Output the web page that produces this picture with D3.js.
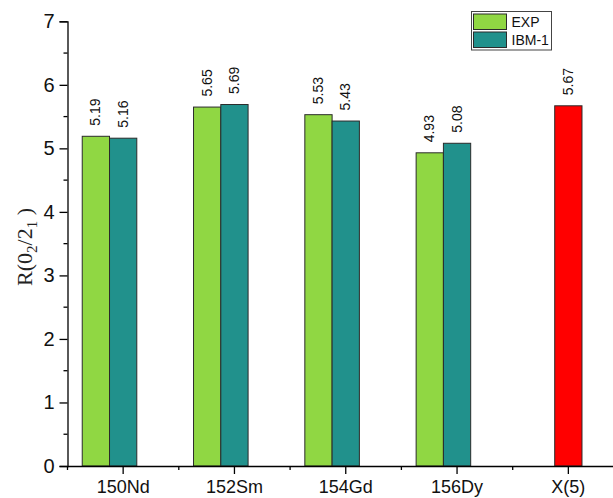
<!DOCTYPE html>
<html>
<head>
<meta charset="utf-8">
<script src="https://cdn.jsdelivr.net/npm/d3@7"></script>
<style>
  html, body { margin: 0; padding: 0; background: #fff; }
  svg { display: block; }
</style>
</head>
<body>
<svg id="chart" width="613" height="498"></svg>
<script>
// Nuclei and the X(5) critical-point prediction
const categories = ["150Nd", "152Sm", "154Gd", "156Dy", "X(5)"];
const expValues  = [5.19, 5.65, 5.53, 4.93, null];
const ibmValues  = [5.16, 5.69, 5.43, 5.08, null];
const x5Values   = [null, null, null, null, 5.67];
const yTicks     = [0, 1, 2, 3, 4, 5, 6, 7];
const legendItems = ["EXP", "IBM-1"];

const colors = { exp: "#90d743", ibm: "#21918c", x5: "#ff0000" };

const svg = d3.select("#chart");

const x = d3.scaleBand().domain(categories).range([67.5, 624]).padding(0);
// three slots per category; the X(5) bar sits in the middle slot
const slot = d3.scaleBand().domain([0, 1, 2]).range([0, x.bandwidth()]).paddingOuter(0.54).paddingInner(0);
const y = d3.scaleLinear().domain([0, 7]).range([466, 21.3]);

const series = [
  { key: "exp", values: expValues, slot: 0, color: colors.exp },
  { key: "ibm", values: ibmValues, slot: 1, color: colors.ibm },
  { key: "x5",  values: x5Values,  slot: 1, color: colors.x5 }
];

const bars = [];
series.forEach(s => s.values.forEach((v, i) => {
  if (v != null) bars.push({ cat: categories[i], v, slot: s.slot, color: s.color });
}));

// bars
svg.append("g").selectAll("rect").data(bars).join("rect")
  .attr("x", d => x(d.cat) + slot(d.slot))
  .attr("y", d => y(d.v))
  .attr("width", slot.bandwidth())
  .attr("height", d => y(0) - y(d.v))
  .attr("fill", d => d.color)
  .attr("stroke", "#2b2b2b")
  .attr("stroke-width", 1);

// value labels, rotated
svg.append("g").selectAll("text").data(bars).join("text")
  .attr("transform", d => `translate(${x(d.cat) + slot(d.slot) + slot.bandwidth() / 2 + 4.5},${y(d.v) - 10.5}) rotate(-90)`)
  .attr("font-family", "Arial, 'Liberation Sans', sans-serif")
  .attr("font-size", 14)
  .attr("fill", "#111")
  .text(d => d.v.toFixed(2));

// y axis
const yAxis = svg.append("g").attr("transform", "translate(67.5,0)")
  .call(d3.axisLeft(y).tickValues(yTicks).tickFormat(d3.format("d")).tickSize(8).tickPadding(5));
yAxis.select(".domain").attr("stroke", "#000").attr("stroke-width", 1.3);
yAxis.selectAll(".tick line").attr("stroke", "#000").attr("stroke-width", 1.3);
yAxis.selectAll(".tick text")
  .attr("font-family", "Arial, 'Liberation Sans', sans-serif")
  .attr("font-size", 20).attr("fill", "#111");
// minor ticks at half units
svg.append("g").selectAll("line")
  .data(d3.range(0.5, 7, 1))
  .join("line")
  .attr("x1", 63.5).attr("x2", 67.5)
  .attr("y1", d => y(d)).attr("y2", d => y(d))
  .attr("stroke", "#000").attr("stroke-width", 1.3);

// x axis
const xAxis = svg.append("g").attr("transform", `translate(0,${y(0)})`)
  .call(d3.axisBottom(x).tickSize(8).tickPadding(6).tickSizeOuter(0));
xAxis.select(".domain").attr("stroke", "#000").attr("stroke-width", 1.3);
xAxis.selectAll(".tick line").attr("stroke", "#000").attr("stroke-width", 1.3);
xAxis.selectAll(".tick text")
  .attr("font-family", "Arial, 'Liberation Sans', sans-serif")
  .attr("font-size", 18).attr("fill", "#111");
// minor ticks at category boundaries
svg.append("g").selectAll("line")
  .data(categories.map(c => x(c)))
  .join("line")
  .attr("x1", d => d).attr("x2", d => d)
  .attr("y1", y(0)).attr("y2", y(0) + 4)
  .attr("stroke", "#000").attr("stroke-width", 1.3);

// y axis title: R(0_2/2_1)
const title = svg.append("text")
  .attr("transform", "translate(32,247) rotate(-90)")
  .attr("text-anchor", "middle")
  .attr("font-family", "'Liberation Serif', 'Times New Roman', serif")
  .attr("font-size", 22)
  .attr("fill", "#222");
title.append("tspan").text("R(0");
title.append("tspan").attr("font-size", 15).attr("dy", 5).text("2");
title.append("tspan").attr("dy", -5).text("/2");
title.append("tspan").attr("font-size", 15).attr("dy", 5).text("1");
title.append("tspan").attr("dy", -5).text(" )");

// legend
const lg = svg.append("g").attr("transform", "translate(471.5,11.5)");
lg.append("rect").attr("width", 80).attr("height", 38.5)
  .attr("fill", "#fff").attr("stroke", "#444").attr("stroke-width", 1);
legendItems.forEach((name, i) => {
  const row = lg.append("g").attr("transform", `translate(2,${2.5 + i * 18})`);
  row.append("rect").attr("width", 33).attr("height", 15.5)
    .attr("fill", i === 0 ? colors.exp : colors.ibm)
    .attr("stroke", "#2b2b2b").attr("stroke-width", 1);
  row.append("text").attr("x", 38).attr("y", 13)
    .attr("font-family", "Arial, 'Liberation Sans', sans-serif")
    .attr("font-size", 14).attr("fill", "#111")
    .text(name);
});
</script>
</body>
</html>
